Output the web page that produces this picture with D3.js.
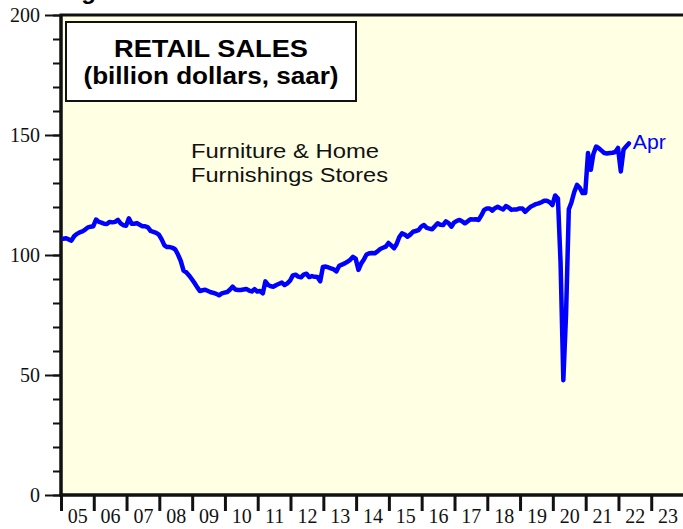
<!DOCTYPE html>
<html>
<head>
<meta charset="utf-8">
<title>Retail Sales: Furniture & Home Furnishings Stores</title>
<script src="https://d3js.org/d3.v7.min.js"></script>
<style>
    body { margin: 0; background: #fff; }
    .axis path { display: none; }
    .axis line { stroke: #111; stroke-width: 2px; }
    .axis text { font-family: "Liberation Serif", "Times New Roman", serif; font-size: 20px; fill: #111; }
    .sans { font-family: "Liberation Sans", Arial, sans-serif; }
</style>
</head>
<body>
<svg id="chart"></svg>
<script>
    // monthly retail sales, billion dollars saar, Jan..Dec of each year
    var sales2005 = [106.8, 107.0, 106.5, 106.0, 107.8, 108.8, 109.4, 109.8, 110.6, 111.5, 111.8, 112.0];
    var sales2006 = [114.8, 113.8, 113.5, 113.0, 112.9, 113.8, 113.6, 113.8, 114.6, 113.2, 112.4, 112.2];
    var sales2007 = [115.3, 113.0, 113.0, 113.3, 112.6, 112.0, 112.0, 111.5, 110.0, 109.6, 109.2, 108.5];
    var sales2008 = [106.5, 104.0, 103.3, 103.3, 103.0, 102.3, 100.2, 97.5, 93.5, 92.8, 91.5, 90.0];
    var sales2009 = [88.3, 86.5, 85.0, 85.3, 85.5, 85.0, 84.5, 84.2, 83.8, 83.2, 84.0, 84.3];
    var sales2010 = [84.6, 85.6, 86.8, 85.6, 85.4, 85.4, 85.6, 85.8, 85.2, 84.8, 85.8, 84.8];
    var sales2011 = [85.0, 84.0, 89.0, 87.5, 87.0, 86.8, 87.5, 88.0, 88.5, 87.5, 88.2, 89.3];
    var sales2012 = [91.5, 91.8, 91.0, 90.7, 91.8, 92.2, 90.8, 91.2, 90.9, 90.8, 89.0, 95.0];
    var sales2013 = [95.2, 94.8, 94.4, 94.0, 93.2, 95.5, 96.0, 96.5, 97.2, 98.0, 99.2, 98.5];
    var sales2014 = [93.8, 96.5, 98.0, 100.2, 100.7, 100.8, 100.7, 101.5, 102.5, 103.0, 103.5, 105.0];
    var sales2015 = [104.0, 102.8, 104.5, 107.5, 109.0, 108.5, 107.6, 108.5, 109.7, 110.0, 110.4, 111.8];
    var sales2016 = [112.5, 111.3, 111.0, 110.7, 112.0, 113.2, 112.6, 112.5, 114.0, 113.3, 111.8, 113.5];
    var sales2017 = [114.2, 114.6, 114.0, 113.2, 114.0, 114.9, 114.8, 114.9, 114.6, 116.5, 118.8, 119.4];
    var sales2018 = [119.4, 118.5, 119.5, 120.1, 119.5, 119.0, 120.4, 119.8, 118.8, 119.0, 119.0, 119.4];
    var sales2019 = [119.4, 118.0, 119.0, 120.1, 120.6, 121.2, 121.5, 122.0, 122.6, 122.6, 122.0, 120.8];
    var sales2020 = [124.8, 123.5, 97.0, 47.8, 75.0, 119.0, 122.0, 126.3, 129.2, 128.0, 125.8, 125.8];
    var sales2021 = [142.5, 135.5, 142.0, 145.2, 144.5, 143.5, 142.5, 142.3, 142.5, 142.6, 142.9, 144.6];
    var sales2022 = [134.8, 144.0, 145.2, 146.5];

    var firstYear = 2005;
    var yearLabels = ["05", "06", "07", "08", "09", "10", "11", "12", "13", "14",
                      "15", "16", "17", "18", "19", "20", "21", "22", "23"];
    var yTicks = [0, 50, 100, 150, 200];
    var yMinorTicks = [0, 10, 20, 30, 40, 50, 60, 70, 80, 90, 100,
                       110, 120, 130, 140, 150, 160, 170, 180, 190, 200];

    drawChart();

    function drawChart() {
        var width = 683, height = 529;
        var plotLeft = 61, plotTop = 15, plotRight = 684, plotBottom = 495;

        var values = [].concat(sales2005, sales2006, sales2007, sales2008, sales2009, sales2010,
            sales2011, sales2012, sales2013, sales2014, sales2015, sales2016, sales2017,
            sales2018, sales2019, sales2020, sales2021, sales2022);
        // each month plotted near its end
        var data = values.map(function (v, i) {
            return { date: new Date(firstYear, i, 27), value: v };
        });

        var x = d3.scaleTime()
            .domain([new Date(firstYear, 0, 1), new Date(firstYear + yearLabels.length, 0, 1)])
            .range([plotLeft, plotRight]);
        var y = d3.scaleLinear().domain([0, 200]).range([plotBottom, plotTop]);

        var svg = d3.select("#chart").attr("width", width).attr("height", height);

        // plot background
        svg.append("rect")
            .attr("x", plotLeft).attr("y", plotTop)
            .attr("width", plotRight + 4 - plotLeft).attr("height", plotBottom - plotTop)
            .attr("fill", "#ffffe4")
            .attr("stroke", "#111").attr("stroke-width", 3);

        // page title above, cut off (only a descender shows in the original)
        svg.append("text").attr("class", "sans")
            .attr("x", 60).attr("y", -1)
            .attr("font-size", 24).attr("font-weight", "bold")
            .text("Figure");

        // y axis
        svg.append("g").attr("class", "axis")
            .attr("transform", "translate(" + plotLeft + ",0)")
            .call(d3.axisLeft(y).tickValues(yMinorTicks).tickSize(8).tickFormat(""));
        svg.append("g").attr("class", "axis")
            .attr("transform", "translate(" + plotLeft + ",0)")
            .call(d3.axisLeft(y).tickValues(yTicks).tickSize(16).tickPadding(5));

        // x axis: ticks at year starts, labels mid-year
        var yearStarts = yearLabels.map(function (d, i) { return new Date(firstYear + i, 0, 1); });
        var yearMids = yearLabels.map(function (d, i) { return new Date(firstYear + i, 6, 2); });
        svg.append("g").attr("class", "axis")
            .attr("transform", "translate(0," + plotBottom + ")")
            .call(d3.axisBottom(x).tickValues(yearStarts).tickSize(16).tickFormat(""))
            .selectAll("line").style("stroke-width", "3px");
        svg.append("g").attr("class", "axis")
            .attr("transform", "translate(0," + plotBottom + ")")
            .call(d3.axisBottom(x).tickValues(yearMids).tickSize(0).tickPadding(14)
                .tickFormat(function (d, i) { return yearLabels[i]; }));

        // axis lines
        svg.append("line").attr("x1", plotLeft).attr("x2", plotLeft)
            .attr("y1", plotTop).attr("y2", plotBottom + 1.5)
            .attr("stroke", "#111").attr("stroke-width", 3);
        svg.append("line").attr("x1", plotLeft - 1.5).attr("x2", width + 5)
            .attr("y1", plotBottom).attr("y2", plotBottom)
            .attr("stroke", "#111").attr("stroke-width", 3);

        // title box
        svg.append("rect")
            .attr("x", 66).attr("y", 22).attr("width", 290).attr("height", 79)
            .attr("fill", "#fff").attr("stroke", "#111").attr("stroke-width", 2);
        svg.append("text").attr("class", "sans")
            .attr("x", 211).attr("y", 57).attr("text-anchor", "middle")
            .attr("font-size", 23).attr("font-weight", "bold")
            .attr("textLength", 194).attr("lengthAdjust", "spacingAndGlyphs")
            .text("RETAIL SALES");
        svg.append("text").attr("class", "sans")
            .attr("x", 211).attr("y", 84).attr("text-anchor", "middle")
            .attr("font-size", 23).attr("font-weight", "bold")
            .attr("textLength", 255).attr("lengthAdjust", "spacingAndGlyphs")
            .text("(billion dollars, saar)");

        // series label
        svg.append("text").attr("class", "sans")
            .attr("x", 191).attr("y", 158).attr("font-size", 21).attr("fill", "#111")
            .attr("textLength", 188).attr("lengthAdjust", "spacingAndGlyphs")
            .text("Furniture & Home");
        svg.append("text").attr("class", "sans")
            .attr("x", 191).attr("y", 182).attr("font-size", 21).attr("fill", "#111")
            .attr("textLength", 197).attr("lengthAdjust", "spacingAndGlyphs")
            .text("Furnishings Stores");

        // line
        var line = d3.line()
            .x(function (d) { return x(d.date); })
            .y(function (d) { return y(d.value); });
        svg.append("path")
            .datum(data)
            .attr("d", line)
            .attr("fill", "none")
            .attr("stroke", "#0000ff")
            .attr("stroke-width", 4.5)
            .attr("stroke-linejoin", "round")
            .attr("stroke-linecap", "round");

        var last = data[data.length - 1];
        svg.append("text").attr("class", "sans")
            .attr("x", x(last.date) + 4).attr("y", y(last.value) + 6)
            .attr("font-size", 20).attr("fill", "#0000ff")
            .attr("textLength", 33).attr("lengthAdjust", "spacingAndGlyphs")
            .text("Apr");
    }
</script>
</body>
</html>
